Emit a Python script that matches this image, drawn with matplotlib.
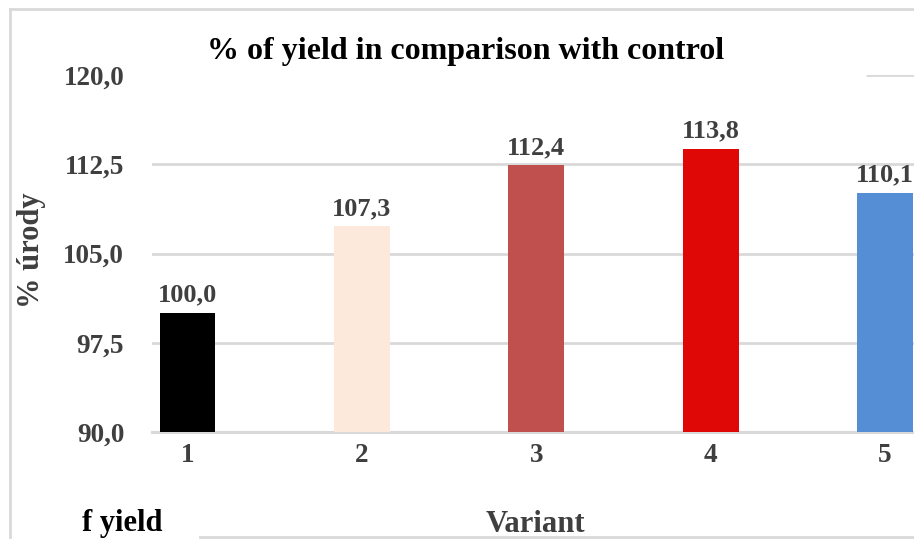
import matplotlib
matplotlib.use("Agg")
import matplotlib.pyplot as plt
from matplotlib.lines import Line2D

# data
variants = ["1", "2", "3", "4", "5"]
yield_pct = [100.0, 107.3, 112.4, 113.8, 110.1]
bar_colors = ["#000000", "#FCE9DC", "#C0504D", "#E00707", "#558ED5"]
y_ticks = [90.0, 97.5, 105.0, 112.5, 120.0]

plt.rcParams["font.family"] = ["Liberation Serif", "DejaVu Serif"]
plt.rcParams["font.weight"] = "bold"

grid_col = "#D9D9D9"
txt_col = "#3F3F3F"

fig = plt.figure(figsize=(9.14, 5.40), dpi=100)
W, H = 914.0, 540.0

# plot area (wider than the figure, the reference is cropped on the right)
ax = fig.add_axes([152 / W, 1 - 432 / H, (924 - 152) / W, 357 / H])

x = list(range(len(variants)))
bars = ax.bar(x, yield_pct, width=0.321, color=bar_colors, zorder=3)

ax.set_ylim(90, 120)
ax.set_xlim(-0.2036, 4.223)
ax.set_yticks(y_ticks)
ax.set_yticklabels([("%.1f" % v).replace(".", ",") for v in y_ticks])
ax.set_xticks(x)
ax.set_xticklabels(variants)

# gridlines (the top one is hidden behind the title box except at the far right)
for v in y_ticks[1:-1]:
    ax.axhline(v, color=grid_col, lw=2, zorder=1)
ax.hlines(120, 3.890, 4.223, color=grid_col, lw=2, zorder=1)

for s in ["left", "right", "top"]:
    ax.spines[s].set_visible(False)
ax.spines["bottom"].set_color(grid_col)
ax.spines["bottom"].set_linewidth(2.2)

ax.tick_params(axis="y", length=0, pad=20, labelsize=19.5, labelcolor=txt_col)
ax.tick_params(axis="x", length=0, pad=8, labelsize=19.5, labelcolor=txt_col)

for b, v in zip(bars, yield_pct):
    ax.annotate(("%.1f" % v).replace(".", ","),
                (b.get_x() + b.get_width() / 2, v),
                xytext=(0, 4.5), textcoords="offset points",
                ha="center", va="bottom", fontsize=19,
                color=txt_col, fontweight="bold", zorder=4)

ax.set_xlabel("Variant", fontsize=22, color=txt_col, fontweight="bold")
ax.xaxis.set_label_coords(0.497, -0.280)
ax.xaxis.label.set_va("baseline")

fig.text(31 / W, 1 - 250 / H, "% úrody", rotation=90, ha="center",
         va="center", fontsize=22, color=txt_col)

fig.text(466 / W, 1 - 51 / H, "% of yield in comparison with control",
         ha="center", va="center", fontsize=23, color="#000000")

# chart border (cropped)
fig.add_artist(Line2D([10 / W, 1.0], [1 - 9 / H, 1 - 9 / H], color=grid_col, lw=2))
fig.add_artist(Line2D([10 / W, 10 / W], [1 - 9 / H, 1 - 537 / H], color=grid_col, lw=2))
fig.add_artist(Line2D([200 / W, 1.0], [1 - 537 / H, 1 - 537 / H], color=grid_col, lw=2))

# legend fragment near the lower edge
fig.text(82 / W, 1 - 531 / H, "f yield", ha="left", va="baseline",
         fontsize=22, color="#000000")

fig.savefig("out.png", dpi=100)
